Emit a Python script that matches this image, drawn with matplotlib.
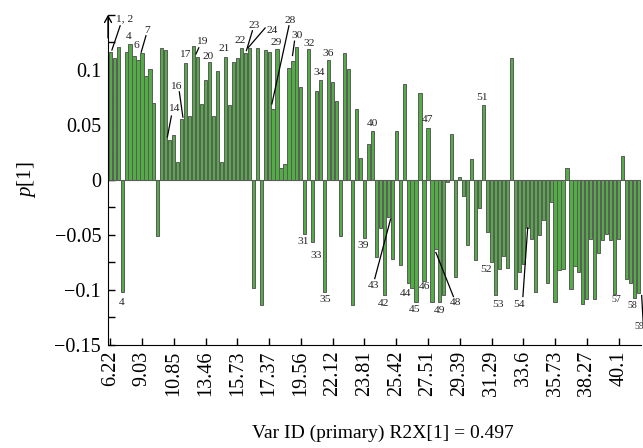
#!/usr/bin/env python3
"""Loading plot p[1] per variable (primary ID), drawn as a bar chart."""

import matplotlib

matplotlib.use("Agg")
import matplotlib.pyplot as plt
from matplotlib.ticker import FixedLocator, FixedFormatter, MultipleLocator

# loadings p[1], one bar per variable, in retention-time order
P1 = [
    0.1165, 0.111, 0.121, -0.102, 0.1165, 0.123, 0.113, 0.109, 0.115, 0.094,
    0.101, 0.070, -0.0506, 0.120, 0.118, 0.036, 0.041, 0.016, 0.055, 0.106,
    0.058, 0.122, 0.112, 0.069, 0.091, 0.107, 0.058, 0.099, 0.0166, 0.112,
    0.068, 0.107, 0.111, 0.120, 0.115, 0.1195, -0.098, 0.120, -0.114, 0.118,
    0.1165, 0.064, 0.119, 0.011, 0.0145, 0.102, 0.108, 0.121, 0.084, -0.049,
    0.119, -0.056, 0.081, 0.091, -0.102, 0.109, 0.089, 0.072, -0.0506, 0.115,
    0.101, -0.114, 0.064, 0.0196, -0.053, 0.0325, 0.0445, -0.070, -0.0437, -0.105,
    -0.034, -0.072, 0.0445, -0.077, 0.087, -0.094, -0.098, -0.111, 0.079, -0.092,
    0.0467, -0.111, -0.0626, -0.111, -0.105, -0.0015, 0.0415, -0.088, 0.0024, -0.0144,
    -0.059, 0.0187, -0.073, -0.026, 0.068, -0.047, -0.075, -0.105, -0.081, -0.069,
    -0.080, 0.111, -0.099, -0.084, -0.076, -0.0437, -0.054, -0.102, -0.0497, -0.0367,
    -0.094, -0.0205, -0.111, -0.082, -0.081, 0.0105, -0.099, -0.078, -0.084, -0.113,
    -0.108, -0.054, -0.108, -0.066, -0.055, -0.049, -0.055, -0.104, -0.054, 0.022,
    -0.090, -0.094, -0.107, -0.103,
]

# every 8th variable carries a retention-time label
X_TICK_LABELS = [
    "6.22", "9.03", "10.85", "13.46", "15.73", "17.37", "19.56", "22.12", "23.81",
    "25.42", "27.51", "29.39", "31.29", "33.6", "35.73", "38.27", "40.1",
]
Y_TICKS = [-0.15, -0.1, -0.05, 0, 0.05, 0.1]
Y_TICK_LABELS = ["\u22120.15", "\u22120.1", "\u22120.05", "0", "0.05", "0.1"]

# primary ID labels: text, text position (bar index, value), optional leader line
NOTES = [
    ("1, 2", 3.6, 0.146, (0.43, 0.118, 2.5, 0.140)),
    ("4", 4.6, 0.130, None),
    ("6", 6.5, 0.122, None),
    ("7", 9.2, 0.136, (7.8, 0.116, 9.0, 0.131)),
    ("4", 2.8, -0.111, None),
    ("14", 16.0, 0.065, (15.4, 0.058, 14.4, 0.039)),
    ("16", 16.6, 0.085, (17.4, 0.080, 18.3, 0.057)),
    ("17", 18.8, 0.1135, None),
    ("19", 23.0, 0.126, (22.3, 0.120, 21.6, 0.1145)),
    ("20", 24.7, 0.112, None),
    ("21", 28.6, 0.119, None),
    ("22", 32.7, 0.127, None),
    ("23", 36.3, 0.140, (35.8, 0.1355, 34.3, 0.1175)),
    ("24", 40.7, 0.1355, (39.0, 0.138, 34.7, 0.120)),
    ("29", 41.8, 0.1245, None),
    ("28", 45.3, 0.1445, (45.0, 0.140, 40.7, 0.069)),
    ("30", 47.0, 0.131, (46.4, 0.126, 45.9, 0.113)),
    ("32", 50.0, 0.1235, None),
    ("31", 48.6, -0.056, None),
    ("33", 51.8, -0.069, None),
    ("34", 52.6, 0.098, None),
    ("36", 54.8, 0.115, None),
    ("35", 54.1, -0.109, None),
    ("39", 63.8, -0.0597, None),
    ("40", 65.9, 0.051, None),
    ("43", 66.4, -0.0964, (66.6, -0.0897, 70.6, -0.0355)),
    ("42", 68.9, -0.112, None),
    ("44", 74.3, -0.103, None),
    ("45", 76.7, -0.118, None),
    ("46", 79.1, -0.097, None),
    ("47", 80.0, 0.0548, None),
    ("49", 82.8, -0.119, None),
    ("48", 87.0, -0.111, (86.4, -0.106, 82.0, -0.066)),
    ("51", 93.5, 0.0744, None),
    ("52", 94.6, -0.081, None),
    ("53", 97.6, -0.113, None),
    ("54", 102.9, -0.113, (103.9, -0.106, 105.1, -0.0437)),
    ("57", 127.3, -0.109, None),
    ("58", 131.5, -0.1145, None),
    ("59", 133.2, -0.133, (133.8, -0.105, 134.2, -0.131)),
]

BAR_FILL = "#52ad45"
BAR_EDGE = "#5a5a5a"


def main() -> None:
    plt.rcParams["font.family"] = ["Liberation Serif", "DejaVu Serif"]
    plt.rcParams["mathtext.fontset"] = "custom"
    plt.rcParams["mathtext.rm"] = "Liberation Serif"
    plt.rcParams["mathtext.it"] = "Liberation Serif:italic"

    fig = plt.figure(figsize=(6.43, 4.48), dpi=100)
    ax = fig.add_axes((0.168, 0.23, 0.829, 0.737))

    positions = list(range(len(P1)))
    ax.bar(positions, P1, width=0.8, color=BAR_FILL, edgecolor=BAR_EDGE, linewidth=0.7, zorder=2)
    ax.axhline(0, color=BAR_EDGE, linewidth=0.8, zorder=1)

    ax.set_xlim(-0.55, len(P1) - 0.35)
    ax.set_ylim(-0.15, 0.15)

    ax.xaxis.set_major_locator(FixedLocator(positions[::8][: len(X_TICK_LABELS)]))
    ax.xaxis.set_major_formatter(FixedFormatter(X_TICK_LABELS))
    ax.yaxis.set_major_locator(FixedLocator(Y_TICKS))
    ax.yaxis.set_major_formatter(FixedFormatter(Y_TICK_LABELS))
    ax.yaxis.set_minor_locator(MultipleLocator(0.025))
    ax.tick_params(axis="x", direction="in", length=5, width=1, labelsize=14.5, rotation=90, pad=4)
    ax.tick_params(axis="y", which="both", direction="in", length=5, width=1, labelsize=14.5, pad=5)

    for side in ("top", "right"):
        ax.spines[side].set_visible(False)
    ax.annotate(
        "", xy=(0, 1.0), xytext=(0, 0.93), xycoords="axes fraction",
        arrowprops=dict(arrowstyle="->,head_width=0.25,head_length=0.45", lw=1, color="black",
                        shrinkA=0, shrinkB=0),
    )

    for text, tx, ty, line in NOTES:
        size = 7 if text in ("57", "58", "59") else 8.2
        ax.text(tx, ty, text, ha="center", va="center", fontsize=size, color="#222222", zorder=4)
        if line is not None:
            x0, y0, x1, y1 = line
            ax.plot([x0, x1], [y0, y1], color="black", linewidth=0.9, clip_on=False, zorder=4)

    fig.text(27 / 643, 1 - 180 / 448, "$p$[1]", rotation=90, ha="center", va="center", fontsize=15)
    fig.text(383 / 643, 1 - 433 / 448, "Var ID (primary) R2X[1] = 0.497", ha="center", va="center",
             fontsize=14)

    fig.savefig("out.png", dpi=100)
    plt.close(fig)


if __name__ == "__main__":
    main()
